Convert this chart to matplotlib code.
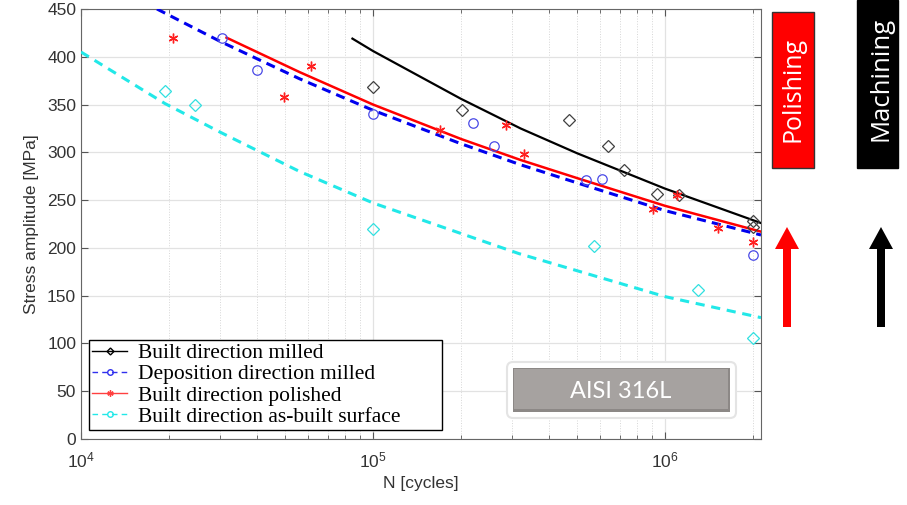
import numpy as np
import matplotlib
matplotlib.use("Agg")
import matplotlib.pyplot as plt
from matplotlib.lines import Line2D
from matplotlib import patches

# measured points (N cycles, stress amplitude MPa)
milled_N = [1.0e5, 2.02e5, 4.67e5, 6.4e5, 7.24e5, 9.35e5, 1.12e6, 2.0e6, 2.0e6]
milled_S = [368, 344, 334, 307, 282, 256, 255, 228, 222]

dep_N = [3.03e4, 4.0e4, 1.0e5, 2.2e5, 2.6e5, 5.35e5, 6.1e5, 2.0e6]
dep_S = [420, 386, 340, 331, 307, 271, 272, 193]

pol_N = [2.07e4, 4.95e4, 6.14e4, 1.7e5, 2.85e5, 3.3e5, 9.1e5, 1.1e6, 1.52e6, 2.0e6]
pol_S = [420, 358, 390, 323, 329, 298, 241, 255, 221, 206]

asb_N = [1.94e4, 2.46e4, 1.0e5, 5.73e5, 1.3e6, 2.0e6]
asb_S = [364, 350, 220, 202, 156, 106]

# fitted curves
milled_fit_N = [8.5e4, 1e5, 2e5, 3.2e5, 5e5, 1e6, 2.13e6]
milled_fit_S = [419, 406, 356, 325, 299, 262, 226]

dep_fit_N = [1.82e4, 3e4, 5.6e4, 1e5, 2e5, 3.2e5, 5e5, 1e6, 2.13e6]
dep_fit_S = [450, 416, 377, 344, 309, 287, 268, 239, 213.5]

pol_fit_N = [3.15e4, 5.6e4, 1e5, 2e5, 3.2e5, 5e5, 1e6, 2.13e6]
pol_fit_S = [420, 384, 350, 314, 292, 273, 244, 217]

asb_fit_N = [1e4, 1.94e4, 3e4, 5.6e4, 1e5, 3.16e5, 1e6, 2.13e6]
asb_fit_S = [405, 351, 321, 280, 247, 194, 149, 127]

labels = ["Built direction milled", "Deposition direction milled",
          "Built direction polished", "Built direction as-built surface"]

plt.rcParams['font.family'] = ['Liberation Sans', 'DejaVu Sans']

W, H = 907, 505
fig = plt.figure(figsize=(W / 100, H / 100), dpi=100)
ax = fig.add_axes([81 / W, 66 / H, 680 / W, 430 / H])

star = (6, 2, 0)
ax.plot(milled_fit_N, milled_fit_S, color='black', lw=1.6, zorder=3)
ax.plot(dep_fit_N, dep_fit_S, color='#0000ee', lw=2.2, dashes=(3, 2), zorder=3)
ax.plot(pol_fit_N, pol_fit_S, color='#ff0000', lw=1.8, zorder=3)
ax.plot(asb_fit_N, asb_fit_S, color='#22e8e8', lw=2.2, dashes=(3, 2.2), zorder=3)

ax.plot(milled_N, milled_S, ls='none', marker='D', ms=6.3, mfc='none', mec='#404040', mew=0.9, zorder=4)
ax.plot(dep_N, dep_S, ls='none', marker='o', ms=6.8, mfc='none', mec='#4a4ae6', mew=0.9, zorder=4)
ax.plot(pol_N, pol_S, ls='none', marker=star, ms=7, mec='#ff2020', mew=1.0, zorder=4)
ax.plot(asb_N, asb_S, ls='none', marker='D', ms=6.3, mfc='none', mec='#30e0e0', mew=0.9, zorder=4)

ax.set_xscale('log')
ax.set_xlim(1e4, 2.13e6)
ax.set_ylim(0, 450)
ax.set_yticks(np.arange(0, 451, 50))

ax.grid(True, which='major', color='#e2e2e2', lw=0.9, ls='-')
ax.grid(True, which='minor', axis='x', color='#d6d6d6', lw=0.7, ls=':')
ax.set_axisbelow(True)
ax.tick_params(which='both', direction='in', top=True, right=True, color='#555555')
ax.tick_params(which='major', length=5, labelsize=12.5, labelcolor='#333333')
ax.tick_params(which='minor', length=3)
ax.tick_params(axis='x', pad=8)
for s in ax.spines.values():
    s.set_color('#666666')

ax.set_ylabel("Stress amplitude [MPa]", fontsize=12.5, color='#333333', labelpad=6)
ax.set_xlabel("N [cycles]", fontsize=12.5, color='#333333', labelpad=4)

handles = [
    Line2D([], [], color='black', lw=1, marker='D', ms=3.5, mfc='none'),
    Line2D([], [], color='#3030ee', lw=1, ls=(0, (4, 3)), marker='o', ms=4, mfc='none'),
    Line2D([], [], color='#ff4040', lw=1, marker=star, ms=4.5),
    Line2D([], [], color='#22e8e8', lw=1, ls=(0, (4, 3)), marker='o', ms=4, mfc='none'),
]
leg = ax.legend(handles, labels, loc='lower left', bbox_to_anchor=(0.012, 0.021, 0.519, 0.2),
                mode='expand', borderaxespad=0,
                prop={'family': 'Liberation Serif', 'size': 15.5},
                fancybox=False, framealpha=1, edgecolor='black', borderpad=0.15,
                labelspacing=0.05, handlelength=1.6, handletextpad=0.5)
leg.get_frame().set_linewidth(1.0)
leg.set_zorder(6)

# overlay in pixel units for the annotations
ov = fig.add_axes([0, 0, 1, 1], zorder=10)
ov.set_xlim(0, W)
ov.set_ylim(H, 0)
ov.axis('off')

# AISI 316L badge
ov.add_patch(patches.FancyBboxPatch((507, 362), 229, 56,
             boxstyle="round,pad=0,rounding_size=6", fc='white', ec='#e4e4e4', lw=1.5))
ov.add_patch(patches.Rectangle((513, 368), 217, 44, fc='#8c8886', ec='none'))
ov.add_patch(patches.Rectangle((514, 369), 214, 40, fc='#a6a2a0', ec='none'))
ov.text(621, 391, "AISI 316L", ha='center', va='center', color='white',
        fontsize=17, family='Lato')

# process labels
ov.add_patch(patches.Rectangle((772, 12), 42, 156, fc='#ff0000', ec='#333333', lw=1))
ov.text(793, 89, "Polishing", rotation=90, ha='center', va='center', color='white',
        fontsize=18, family='Open Sans')
ov.add_patch(patches.Rectangle((857, 0), 41, 168, fc='black', ec='black', lw=1))
ov.text(881, 79, "Machining", rotation=90, ha='center', va='center', color='white',
        fontsize=18.5, family='Open Sans')

ov.add_patch(patches.FancyArrow(787, 327, 0, -100, width=8, head_width=24, head_length=22,
                                length_includes_head=True, color='#ff0000', lw=0))
ov.add_patch(patches.FancyArrow(881, 327, 0, -100, width=8, head_width=24, head_length=22,
                                length_includes_head=True, color='black', lw=0))

fig.savefig("out.png", dpi=100)
